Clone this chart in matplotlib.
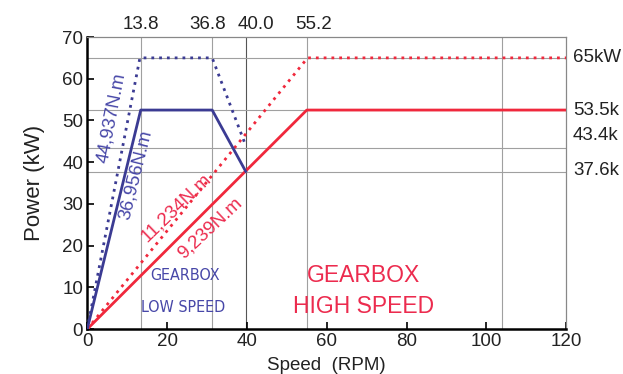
import matplotlib
matplotlib.use("Agg")
import matplotlib.pyplot as plt

plt.rcParams['font.family'] = ['Liberation Sans', 'DejaVu Sans']

# ---- data ----
low_solid_speed = [0, 13.4, 31.3, 39.7]
low_solid_power = [0, 52.5, 52.5, 37.8]
low_dot_speed = [0, 13.2, 31.3, 39.7]
low_dot_power = [0, 65.0, 65.0, 44.0]
high_solid_speed = [0, 55.0, 120]
high_solid_power = [0, 52.5, 52.5]
high_dot_speed = [0, 55.2, 120]
high_dot_power = [0, 65.0, 65.0]

vgrid = [13.5, 31.3, 39.8, 55.0, 104.0]
hgrid = [65.0, 52.5, 43.4, 37.6]

top_tick_pos = [13.5, 30.1, 42.3, 56.8]
top_tick_labels = ["13.8", "36.8", "40.0", "55.2"]

right_labels = ["65kW", "53.5k", "43.4k", "37.6k"]
right_label_y = [65.0, 52.3, 46.3, 38.0]

x_ticks = [0, 20, 40, 60, 80, 100, 120]
y_ticks = [0, 10, 20, 30, 40, 50, 60, 70]

BLUE = "#3b3b93"
BLUE_T = "#4747a8"
RED = "#f0283c"
RED_T = "#ec2b4e"

fig = plt.figure(figsize=(6.23, 3.74), dpi=100)
ax = fig.add_axes([0.140, 0.120, 0.769, 0.781])
ax.set_xlim(0, 120)
ax.set_ylim(0, 70)

# grid lines
for x in vgrid:
    c = "#555555" if abs(x - 39.8) < 0.5 else "#a0a0a0"
    ax.axvline(x, color=c, lw=0.8, zorder=1)
for y in hgrid:
    ax.axhline(y, color="#a0a0a0", lw=0.8, zorder=1)

ax.plot(high_dot_speed, high_dot_power, color=RED, lw=2.0, ls=(0, (1, 1.8)), zorder=3)
ax.plot(high_solid_speed, high_solid_power, color=RED, lw=2.0, zorder=3)
ax.plot(low_dot_speed, low_dot_power, color=BLUE, lw=2.0, ls=(0, (1, 1.8)), zorder=4)
ax.plot(low_solid_speed, low_solid_power, color=BLUE, lw=2.0, zorder=4)

# spines
for s in ["top", "right"]:
    ax.spines[s].set_color("#888888")
    ax.spines[s].set_linewidth(0.9)
for s in ["left", "bottom"]:
    ax.spines[s].set_color("black")
    ax.spines[s].set_linewidth(1.8)

ax.set_xticks(x_ticks)
ax.set_yticks(y_ticks)
ax.tick_params(direction="in", length=5, width=1.2, labelsize=13.5, colors="black",
               labelcolor="#222222", pad=3)
ax.set_xlabel("Speed  (RPM)", fontsize=13.5, color="#222222", labelpad=5)
ax.set_ylabel("Power (kW)", fontsize=16, color="#222222", labelpad=12)

# top labels
for xp, lab in zip(top_tick_pos, top_tick_labels):
    ax.text(xp, 71.0, lab, ha="center", va="bottom", fontsize=13.5, color="#222222",
            clip_on=False)

# right labels
for lab, yp in zip(right_labels, right_label_y):
    ax.text(121.7, yp, lab, ha="left", va="center", fontsize=13.5, color="#222222",
            clip_on=False)

# slope annotations
ax.text(6.2, 50.6, "44,937N.m", color=BLUE_T, fontsize=13.5, rotation=79,
        ha="center", va="center", zorder=5)
ax.text(12.2, 37.0, "36,956N.m", color=BLUE_T, fontsize=13.5, rotation=76,
        ha="center", va="center", zorder=5)
ax.text(22.3, 29.0, "11,234N.m", color=RED_T, fontsize=13.5, rotation=44,
        ha="center", va="center", zorder=5)
ax.text(30.8, 24.3, "9,239N.m", color=RED_T, fontsize=13.5, rotation=43,
        ha="center", va="center", zorder=5)

narrow = ['DejaVu Sans', 'Liberation Sans']
ax.text(24.5, 12.8, "GEARBOX", color=BLUE_T, fontsize=11.5, family=narrow,
        fontstretch='condensed', ha="center", va="center")
ax.text(24.0, 5.2, "LOW SPEED", color=BLUE_T, fontsize=11.5, family=narrow,
        fontstretch='condensed', ha="center", va="center")
ax.text(69.2, 12.8, "GEARBOX", color=RED_T, fontsize=16.5, ha="center", va="center")
ax.text(69.2, 5.4, "HIGH SPEED", color=RED_T, fontsize=16.5, ha="center", va="center")

fig.savefig("out.png", dpi=100)
